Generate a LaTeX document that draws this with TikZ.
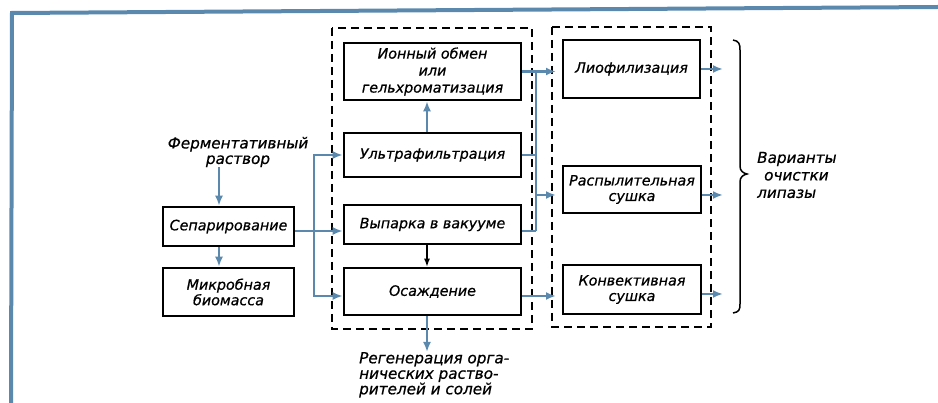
\documentclass[tikz,border=0pt]{standalone}
\usepackage{fontspec}
\setmainfont{DejaVu Sans}[ItalicFont={DejaVu Sans Oblique},ItalicFeatures={FakeBold=0.7}]
\usetikzlibrary{arrows.meta}
\definecolor{fb}{HTML}{5B89AE}
\begin{document}
\begin{tikzpicture}[x=1pt,y=-1pt,
  txt/.style={font=\itshape\fontsize{14.3}{15.5}\selectfont,align=center,inner sep=0pt},
  otxt/.style={font=\itshape\fontsize{15.2}{15.5}\selectfont,align=center,inner sep=0pt},
  box/.style={txt,draw,line width=2.6pt},
  grp/.style={draw,dash pattern=on 8pt off 5pt,line width=1.3pt},
  barr/.style={draw=fb,line width=2.4pt,-{Latex[length=10pt,width=8pt]}},
  karr/.style={draw=black,line width=1.4pt,-{Latex[length=8pt,width=6pt]}},
  bline/.style={draw=fb,line width=2.4pt}]
\useasboundingbox (0,0) rectangle (938,403);
% frame
\draw[fb,line width=4pt] (11,403) -- (12,13) -- (938,7);
% groups
\draw[grp] (332,28) rectangle (532,329);
\draw[grp] (552,27) rectangle (711,327);
% boxes
\node[box,minimum width=131pt,minimum height=39pt] (sep) at (228.5,226.5) {Сепарирование};
\node[box,minimum width=131pt,minimum height=48pt] (mik) at (228.5,292) {Микробная\\биомасса};
\node[box,minimum width=177pt,minimum height=57pt,font=\itshape\fontsize{14.3}{17}\selectfont] (ion) at (432.5,71.5) {Ионный обмен\\или\\гельхроматизация};
\node[box,minimum width=177pt,minimum height=44pt] (ult) at (432.5,155) {Ультрафильтрация};
\node[box,minimum width=177pt,minimum height=39pt] (vyp) at (432.5,224.5) {Выпарка в вакууме};
\node[box,minimum width=177pt,minimum height=47pt] (osa) at (432.5,291.5) {Осаждение};
\node[box,minimum width=137pt,minimum height=58pt] (lio) at (631.5,69) {Лиофилизация};
\node[box,minimum width=138pt,minimum height=47pt] (ras) at (632,189.5) {Распылительная\\сушка};
\node[box,minimum width=138pt,minimum height=49pt] (kon) at (632,289.5) {Конвективная\\сушка};
% texts
\node[otxt] (ferm) at (238,152) {Ферментативный\\раствор};
\node[otxt,align=left,anchor=north west] (reg) at (359,352) {Регенерация орга-\\нических раство-\\рителей и солей};
\node[otxt,align=left,anchor=west,font=\itshape\fontsize{15.2}{17.5}\selectfont] (var) at (757,175) {Варианты\\\hspace*{7pt}очистки\\липазы};
% coordinates
\coordinate (c1) at (219,0);
\coordinate (c2) at (427,0);
\coordinate (j1) at (314,231);
\coordinate (j2) at (536,0);
\coordinate (a3) at (556,0);
\coordinate (a4) at (723,0);
\coordinate (yv) at (0,231);
\coordinate (yr) at (0,195);
\coordinate (yo) at (0,296);
\coordinate (yk) at (0,294);
% left connectors
\draw[barr] (ferm.south -| c1) -- (sep.north -| c1);
\draw[barr] (sep.south -| c1) -- (mik.north -| c1);
\draw[bline] (sep.east |- j1) -- (j1);
\draw[barr] (j1) -- (vyp.west |- j1);
\draw[barr] (j1) |- (ult.west);
\draw[barr] (j1) |- (osa.west |- yo);
% middle
\draw[barr] (ult.north -| c2) -- (ion.south -| c2);
\draw[karr] (vyp.south -| c2) -- (osa.north -| c2);
\draw[barr] (osa.south -| c2) -- (reg.north -| c2);
% to column 3
\draw[barr] (ion.east) -- (ion.east -| a3);
\draw[bline] (ion.east -| j2) -- (j2 |- yv);
\draw[bline] (ult.east) -- (ult.east -| j2);
\draw[bline] (vyp.east |- yv) -- (j2 |- yv);
\draw[barr] (j2 |- yr) -- (a3 |- yr);
\draw[barr] (osa.east |- yo) -- (a3 |- yo);
% outputs
\draw[barr] (lio.east) -- (lio.east -| a4);
\draw[barr] (ras.east |- yr) -- (a4 |- yr);
\draw[barr] (kon.east |- yk) -- (a4 |- yk);
% brace
\draw[line width=1.5pt] (733,40) .. controls (739,41) and (740,44) .. (740,50) -- (740,166)
  .. controls (740,171) and (743,173) .. (747,174)
  .. controls (743,175) and (740,177) .. (740,182) -- (740,304)
  .. controls (740,310) and (739,312) .. (733,313);
\end{tikzpicture}
\end{document}
